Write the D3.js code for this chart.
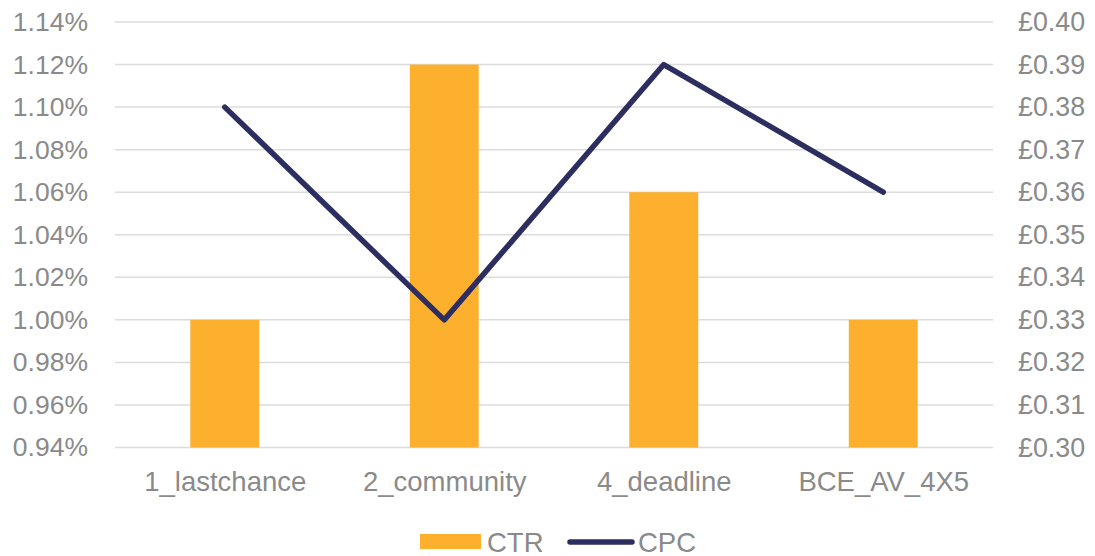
<!DOCTYPE html>
<html>
<head>
<meta charset="utf-8">
<script src="https://cdn.jsdelivr.net/npm/d3@7"></script>
<style>
  html, body { margin: 0; padding: 0; background: #fff; }
  svg { display: block; font-family: "Liberation Sans", Arial, sans-serif; }
</style>
</head>
<body>
<svg id="chart" width="1095" height="556"></svg>
<script>
// Creative variants shown on the x axis
const categories = ["1_lastchance", "2_community", "4_deadline", "BCE_AV_4X5"];
// Click-through rate (%) per variant
const ctrValues = [1.00, 1.12, 1.06, 1.00];
// Cost per click (GBP) per variant
const cpcValues = [0.38, 0.33, 0.39, 0.36];
// Axis ticks
const ctrTicks = [0.94, 0.96, 0.98, 1.00, 1.02, 1.04, 1.06, 1.08, 1.10, 1.12, 1.14];
const cpcTicks = [0.30, 0.31, 0.32, 0.33, 0.34, 0.35, 0.36, 0.37, 0.38, 0.39, 0.40];
const seriesNames = ["CTR", "CPC"];

const barColor = "#FDB02D";
const lineColor = "#2D2E60";
const textColor = "#8A8A8A";
const gridColor = "#DCDCDC";

const svg = d3.select("#chart");
const plot = { left: 115, right: 993, top: 22, bottom: 447.5 };

const x = d3.scaleBand()
  .domain(categories)
  .range([plot.left, plot.right])
  .paddingInner(0.686)
  .paddingOuter(0.343);

const xPoint = d3.scalePoint()
  .domain(categories)
  .range([plot.left, plot.right])
  .padding(0.5);

const yLeft = d3.scaleLinear().domain([0.94, 1.14]).range([plot.bottom, plot.top]);
const yRight = d3.scaleLinear().domain([0.30, 0.40]).range([plot.bottom, plot.top]);

// Horizontal gridlines
svg.append("g")
  .selectAll("line")
  .data(ctrTicks)
  .join("line")
  .attr("x1", plot.left)
  .attr("x2", plot.right)
  .attr("y1", d => yLeft(d))
  .attr("y2", d => yLeft(d))
  .attr("stroke", gridColor)
  .attr("stroke-width", 1.5);

// Left axis (CTR)
const leftAxis = svg.append("g")
  .attr("transform", `translate(${plot.left},0)`)
  .call(d3.axisLeft(yLeft).tickValues(ctrTicks).tickFormat(d => d.toFixed(2) + "%").tickSize(0).tickPadding(27));
leftAxis.select(".domain").remove();
leftAxis.selectAll("text")
  .attr("fill", textColor)
  .style("font-size", "26.5px")
  .style("font-family", "'Liberation Sans', Arial, sans-serif");

// Right axis (CPC)
const rightAxis = svg.append("g")
  .attr("transform", `translate(${plot.right},0)`)
  .call(d3.axisRight(yRight).tickValues(cpcTicks).tickFormat(d => "£" + d.toFixed(2)).tickSize(0).tickPadding(25));
rightAxis.select(".domain").remove();
rightAxis.selectAll("text")
  .attr("fill", textColor)
  .style("font-size", "26.8px")
  .style("font-family", "'Liberation Sans', Arial, sans-serif");

// CTR bars
svg.append("g")
  .selectAll("rect")
  .data(categories.map((c, i) => ({ c, v: ctrValues[i] })))
  .join("rect")
  .attr("x", d => x(d.c))
  .attr("width", x.bandwidth())
  .attr("y", d => yLeft(d.v))
  .attr("height", d => yLeft(0.94) - yLeft(d.v))
  .attr("fill", barColor);

// Category axis
const bottomAxis = svg.append("g")
  .attr("transform", `translate(0,${plot.bottom})`)
  .call(d3.axisBottom(xPoint).tickSize(0).tickPadding(24));
bottomAxis.select(".domain").remove();
bottomAxis.selectAll("text")
  .attr("fill", textColor)
  .style("font-size", "27.5px")
  .style("font-family", "'Liberation Sans', Arial, sans-serif");

// CPC line
const line = d3.line()
  .x((d, i) => xPoint(categories[i]))
  .y(d => yRight(d));
svg.append("path")
  .datum(cpcValues)
  .attr("d", line)
  .attr("fill", "none")
  .attr("stroke", lineColor)
  .attr("stroke-width", 5.5)
  .attr("stroke-linecap", "round")
  .attr("stroke-linejoin", "round");

// Legend
const legend = svg.append("g");
legend.append("rect")
  .attr("x", 420).attr("y", 534).attr("width", 61).attr("height", 15)
  .attr("fill", barColor);
legend.append("text")
  .attr("x", 487).attr("y", 551.5)
  .attr("fill", textColor)
  .style("font-size", "27.5px")
  .text(seriesNames[0]);
legend.append("line")
  .attr("x1", 570).attr("x2", 632).attr("y1", 542).attr("y2", 542)
  .attr("stroke", lineColor).attr("stroke-width", 5.5).attr("stroke-linecap", "round");
legend.append("text")
  .attr("x", 638).attr("y", 551.5)
  .attr("fill", textColor)
  .style("font-size", "27.5px")
  .text(seriesNames[1]);
</script>
</body>
</html>
